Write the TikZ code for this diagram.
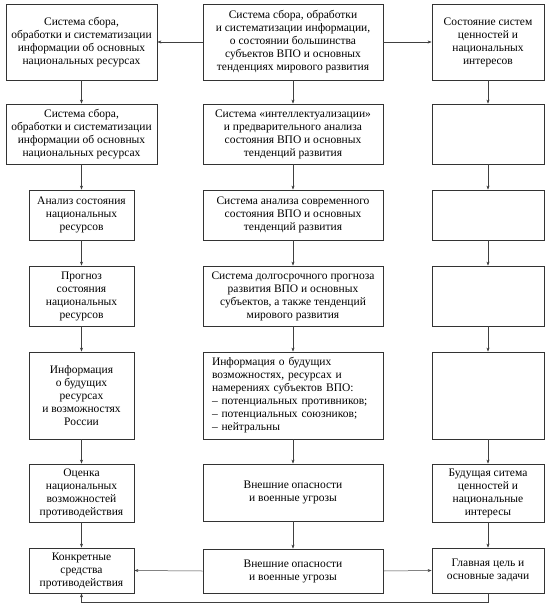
\documentclass[tikz,border=0pt]{standalone}
\usepackage{fontspec}
\setmainfont{Liberation Serif}
\usetikzlibrary{arrows.meta}

\tikzset{
  blk/.style={draw=black!80, line width=0.8pt, inner sep=0pt, align=center,
    font=\fontsize{11.5}{13}\selectfont},
  lw/.style={blk, minimum width=151pt},
  ln/.style={blk, minimum width=105pt},
  mid/.style={blk, minimum width=180pt},
  rgt/.style={blk, minimum width=112pt},
  arr/.style={-{Stealth[length=4pt,width=3pt]}, draw=black!75, line width=0.5pt}
}

\begin{document}
\begin{tikzpicture}[x=1pt,y=-1pt]

    % Page frame
    \useasboundingbox (0,0) rectangle (550,613);

    % --- Left column ---
    \node[lw, minimum height=76pt] (L1) at (81.5,42) {Система сбора,\\обработки и систематизации\\информации об основных\\национальных ресурсах};
    \node[lw, minimum height=60pt] (L2) at (81.5,134) {Система сбора,\\обработки и систематизации\\информации об основных\\национальных ресурсах};
    \node[ln, minimum height=50pt] (L3) at (81.5,215) {Анализ состояния\\национальных\\ресурсов};
    \node[ln, minimum height=60pt] (L4) at (81.5,296) {Прогноз\\состояния\\национальных\\ресурсов};
    \node[ln, minimum height=87pt] (L5) at (81.5,395.5) {Информация\\о будущих\\ресурсах\\и возможностях\\России};
    \node[ln, minimum height=58pt] (L6) at (81.5,493) {Оценка\\национальных\\возможностей\\противодействия};
    \node[ln, minimum height=45pt] (L7) at (81.5,570.5) {Конкретные\\средства\\противодействия};

    % --- Middle column ---
    \node[mid, minimum height=76pt] (M1) at (293,42) {Система сбора, обработки\\и систематизации информации,\\о состоянии большинства\\субъектов ВПО и основных\\тенденциях мирового развития};
    \node[mid, minimum height=60pt] (M2) at (293,134) {Система «интеллектуализации»\\и предварительного анализа\\состояния ВПО и основных\\тенденций развития};
    \node[mid, minimum height=50pt] (M3) at (293,215) {Система анализа современного\\состояния ВПО и основных\\тенденций развития};
    \node[mid, minimum height=60pt] (M4) at (293,296) {Система долгосрочного прогноза\\развития ВПО и основных\\субъектов, а также тенденций\\мирового развития};
    % list box: text set flush left
    \node[mid, minimum height=87pt, align=left, text width=162pt, inner xsep=9pt] (M5) at (293,395.5) {Информация о будущих\\возможностях, ресурсах и\\намерениях субъектов ВПО:\\– потенциальных противников;\\– потенциальных союзников;\\– нейтральны};
    \node[mid, minimum height=57pt] (M6) at (293,492.5) {Внешние опасности\\и военные угрозы};
    \node[mid, minimum height=44pt] (M7) at (293,571) {Внешние опасности\\и военные угрозы};

    % --- Right column ---
    \node[rgt, minimum height=76pt] (R1) at (488,42) {Состояние систем\\ценностей и\\национальных\\интересов};
    \node[rgt, minimum height=60pt] (R2) at (488,134) {};
    \node[rgt, minimum height=50pt] (R3) at (488,215) {};
    \node[rgt, minimum height=60pt] (R4) at (488,296) {};
    \node[rgt, minimum height=87pt] (R5) at (488,395.5) {};
    \node[rgt, minimum height=58pt] (R6) at (488,493) {Будущая ситема\\ценностей и\\национальные\\интересы};
    \node[rgt, minimum height=45pt] (R7) at (488,570.5) {Главная цель и\\основные задачи};

    % Vertical arrows in each column
    \foreach \c in {L,M,R}{
      \foreach \i [evaluate=\i as \j using int(\i+1)] in {1,...,6}{
        \draw[arr] (\c\i.south) -- (\c\j.north);
      }
    }

    % Side arrows at top and bottom rows
    \draw[arr] (M1.west) -- (L1.east);
    \draw[arr] (M1.east) -- (R1.west);
    \draw[arr] (M7.west) -- (L7.east);
    \draw[arr] (M7.east) -- (R7.west);

    % --- Feedback loop along the bottom ---
    \draw[arr] (R7.south) -- ++(0,9) -| (L7.south);

\end{tikzpicture}
\end{document}
